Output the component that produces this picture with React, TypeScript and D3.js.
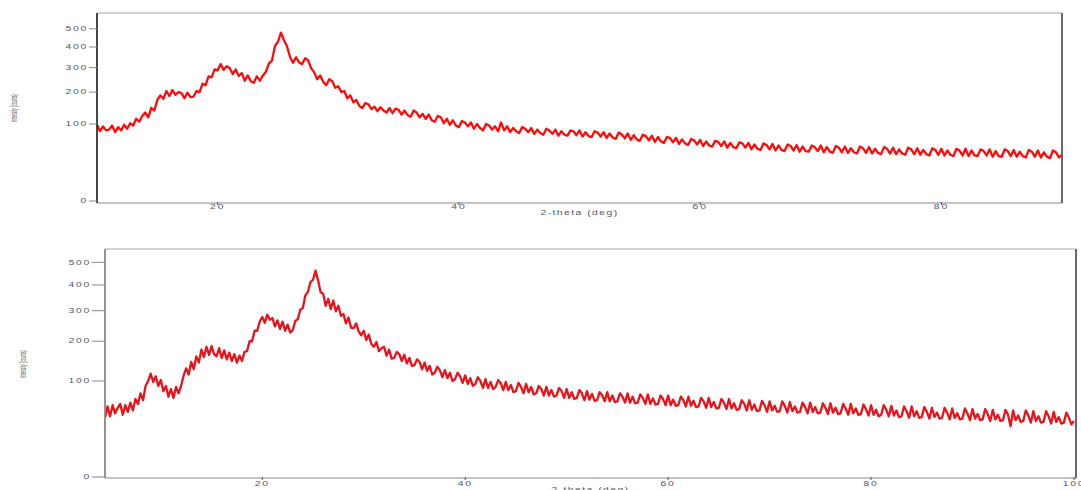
import React from 'react';
import * as d3 from 'd3';

// sample grid: 0.25 deg steps
const STEP = 0.25;

// top pattern, 10 - 90 deg
const topStart = 10;
const topCounts = [
  98, 82, 94, 84, 86, 96, 80, 92, 84, 98, 88, 102, 96, 114, 106, 122,
  132, 118, 146, 138, 172, 188, 176, 204, 186, 208, 190, 200, 196, 178, 198, 182,
  184, 204, 200, 232, 226, 262, 258, 292, 288, 316, 290, 306, 298, 272, 292, 264,
  276, 244, 266, 242, 236, 262, 244, 266, 282, 318, 332, 404, 428, 478, 436, 404,
  350, 322, 348, 324, 316, 344, 334, 298, 280, 250, 266, 240, 226, 250, 242, 216,
  222, 200, 204, 178, 188, 164, 172, 152, 146, 162, 158, 142, 150, 136, 148, 138,
  132, 146, 130, 144, 140, 126, 138, 124, 120, 138, 132, 118, 128, 114, 126, 110,
  106, 122, 118, 102, 114, 98, 110, 96, 92, 108, 104, 94, 104, 88, 100, 90,
  84, 100, 96, 86, 94, 82, 104, 84, 94, 80, 90, 82, 78, 92, 88, 80,
  90, 76, 86, 78, 74, 88, 84, 76, 86, 72, 82, 74, 72, 84, 82, 73,
  84, 70, 80, 71, 69, 82, 79, 70, 80, 67, 77, 68, 65, 79, 75, 66,
  77, 63, 73, 64, 61, 74, 71, 62, 72, 59, 69, 60, 57, 69, 67, 58,
  67, 55, 64, 56, 53, 65, 62, 54, 63, 51, 60, 52, 50, 61, 59, 51,
  60, 48, 57, 49, 47, 58, 56, 48, 57, 45, 54, 46, 44, 56, 53, 45,
  55, 43, 52, 44, 42, 54, 51, 43, 53, 41, 50, 42, 41, 52, 49, 42,
  52, 40, 49, 41, 39, 51, 48, 40, 50, 39, 47, 40, 38, 50, 47, 39,
  49, 38, 46, 39, 37, 49, 46, 38, 48, 37, 45, 38, 36, 48, 45, 37,
  47, 36, 44, 37, 35, 47, 44, 36, 46, 35, 43, 36, 34, 46, 43, 35,
  46, 34, 43, 35, 34, 45, 42, 35, 45, 33, 42, 34, 33, 45, 42, 34,
  44, 33, 41, 34, 32, 44, 41, 33, 43, 32, 40, 33, 31, 43, 40, 32,
  36
];

// bottom pattern, 4.5 - 100 deg
const bottomStart = 4.5;
const bottomCounts = [
  38, 54,
  40, 56, 44, 52, 58, 42, 56, 46, 60, 48, 66, 58, 76, 64, 90, 100,
  116, 98, 110, 90, 102, 80, 90, 70, 84, 68, 88, 76, 90, 112, 128, 114,
  144, 126, 158, 142, 176, 156, 184, 162, 186, 164, 158, 180, 154, 174, 150, 168,
  146, 164, 142, 160, 146, 170, 172, 200, 200, 232, 232, 262, 278, 258, 286, 268,
  274, 246, 266, 238, 262, 232, 252, 226, 234, 264, 270, 304, 310, 358, 372, 412,
  422, 462, 420, 370, 364, 318, 344, 306, 338, 298, 318, 282, 288, 256, 276, 242,
  240, 256, 230, 218, 232, 204, 220, 192, 184, 198, 172, 180, 184, 160, 176, 152,
  154, 170, 164, 146, 162, 140, 154, 134, 136, 150, 144, 126, 142, 122, 134, 114,
  118, 132, 124, 108, 124, 106, 118, 100, 104, 118, 110, 96, 112, 94, 106, 90,
  94, 108, 100, 86, 104, 86, 98, 84, 88, 102, 96, 82, 98, 82, 92, 78,
  80, 96, 88, 76, 94, 78, 88, 74, 76, 90, 84, 72, 88, 72, 82, 70,
  72, 86, 80, 68, 84, 68, 78, 66, 68, 82, 76, 64, 80, 65, 75, 63,
  64, 78, 73, 62, 78, 62, 72, 61, 62, 76, 70, 60, 76, 60, 70, 59,
  60, 74, 68, 58, 74, 58, 67, 57, 58, 72, 66, 56, 72, 56, 65, 55,
  56, 70, 64, 54, 70, 55, 63, 53, 54, 68, 62, 52, 68, 53, 61, 51,
  52, 66, 60, 50, 66, 51, 59, 49, 50, 64, 58, 48, 64, 49, 57, 47,
  48, 63, 56, 46, 62, 48, 55, 46, 47, 62, 55, 45, 61, 47, 54, 45,
  46, 60, 53, 44, 60, 46, 53, 44, 45, 59, 52, 43, 59, 45, 52, 43,
  44, 58, 51, 42, 58, 44, 51, 42, 43, 57, 50, 41, 56, 42, 49, 40,
  42, 56, 49, 40, 55, 41, 48, 39, 40, 54, 47, 38, 54, 40, 47, 38,
  39, 53, 46, 37, 52, 39, 45, 37, 38, 52, 45, 36, 51, 38, 44, 36,
  37, 51, 44, 35, 50, 37, 43, 35, 36, 50, 43, 34, 49, 36, 42, 34,
  35, 49, 42, 28, 48, 35, 41, 33, 34, 48, 41, 32, 47, 34, 40, 32,
  33, 47, 40, 31, 46, 33, 39, 31, 32, 45, 38, 30,
  34
];

const yTicks = [0, 100, 200, 300, 400, 500];
const topXTicks = [20, 40, 60, 80];
const bottomXTicks = [20, 40, 60, 80, 100];

const FONT = '"Liberation Sans", Arial, sans-serif';

type PanelProps = {
  start: number;
  counts: number[];
  xDomain: [number, number];
  yMax: number;
  left: number;
  right: number;
  top: number;
  bottom: number;
  zeroY: number;
  xTicks: number[];
  tickLen: number;
  color: string;
  leftAxisColor: string;
  yTitleX: number;
  yTitleY: number;
  xLabelY: number;
  xTitleY: number;
};

function Panel(p: PanelProps) {
  const x = d3.scaleLinear().domain(p.xDomain).range([p.left, p.right]);
  const y = d3.scaleSqrt().domain([0, p.yMax]).range([p.zeroY, p.top]);
  const pts = p.counts.map((c, i) => [p.start + i * STEP, c] as [number, number]);
  const line = d3.line<[number, number]>()
    .x(d => x(d[0]))
    .y(d => y(d[1]));
  const cx = (p.left + p.right) / 2;
  return (
    <g>
      {/* frame */}
      <line x1={p.left} x2={p.right} y1={p.top} y2={p.top} stroke="#c4c4c4" strokeWidth={1.5} />
      <line x1={p.left} x2={p.right} y1={p.bottom} y2={p.bottom} stroke="#c4c4c4" strokeWidth={1.8} />
      <line x1={p.right} x2={p.right} y1={p.top} y2={p.bottom} stroke="#444" strokeWidth={1.6} />
      <path d={line(pts) || ''} fill="none" stroke={p.color} strokeWidth={2.3} strokeLinejoin="round" />
      <line x1={p.left} x2={p.left} y1={p.top} y2={p.bottom} stroke={p.leftAxisColor} strokeWidth={1.8} />
      {/* y ticks */}
      {yTicks.map(t => (
        <g key={'y' + t}>
          <line x1={p.left - p.tickLen} x2={p.left} y1={y(t)} y2={y(t)} stroke="#888" strokeWidth={1} />
          <text
            transform={`translate(${p.left - p.tickLen - 1},${y(t) + 2.2}) scale(1.6,1)`}
            textAnchor="end" fontSize={6.5} letterSpacing={1.1} fill="#55566a" fontFamily={FONT}
          >{t}</text>
        </g>
      ))}
      {/* x ticks */}
      {p.xTicks.map(t => (
        <g key={'x' + t}>
          <line x1={x(t)} x2={x(t)} y1={p.bottom - 1} y2={p.bottom + 2} stroke="#555" strokeWidth={1} />
          <text
            transform={`translate(${x(t)},${p.xLabelY}) scale(1.6,1)`}
            textAnchor="middle" fontSize={6.5} letterSpacing={1.1} fill="#55566a" fontFamily={FONT}
          >{t}</text>
        </g>
      ))}
      <text
        transform={`translate(${cx},${p.xTitleY}) scale(1.6,1)`}
        textAnchor="middle" fontSize={6.5} letterSpacing={0.9} fill="#55566a" fontFamily={FONT}
      >2-theta (deg)</text>
      <text
        transform={`translate(${p.yTitleX},${p.yTitleY}) rotate(-90) scale(0.4,1)`}
        textAnchor="middle" fontSize={9} fill="#444" fontFamily={FONT}
      >Intensity (counts)</text>
    </g>
  );
}

export default function App() {
  return (
    <div style={{ position: 'absolute', left: 0, top: 0, width: 1081, height: 490, background: '#fff' }}>
      <svg width={1081} height={490} style={{ display: 'block' }}>
        <rect width={1081} height={490} fill="#fff" />
        <Panel
          start={topStart} counts={topCounts} xDomain={[10, 90]} yMax={596}
          left={97} right={1062} top={13} bottom={203} zeroY={201}
          xTicks={topXTicks} tickLen={8} color="#ff0a0a" leftAxisColor="#333"
          yTitleX={17} yTitleY={108} xLabelY={209} xTitleY={215}
        />
        <Panel
          start={bottomStart} counts={bottomCounts} xDomain={[4.5, 100.2]} yMax={564}
          left={105} right={1076} top={249} bottom={478} zeroY={477}
          xTicks={bottomXTicks} tickLen={13} color="#e8141c" leftAxisColor="#888"
          yTitleX={26} yTitleY={364} xLabelY={486} xTitleY={492}
        />
      </svg>
    </div>
  );
}
